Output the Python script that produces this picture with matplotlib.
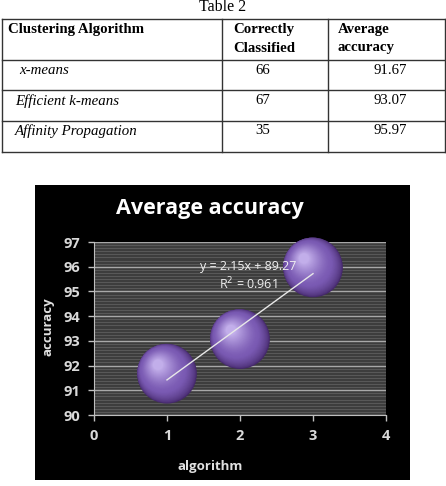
import numpy as np
import matplotlib
matplotlib.use('Agg')
import matplotlib.pyplot as plt
from matplotlib.lines import Line2D
from matplotlib.patches import Rectangle
from matplotlib.transforms import ScaledTranslation
from matplotlib.colors import to_rgb

# table data
table_title = "Table 2"
col_headers = [["Clustering Algorithm"], ["Correctly", "Classified"], ["Average", "accuracy"]]
algorithms = ["x-means", "Efficient k-means", "Affinity Propagation"]
correctly_classified = [66, 67, 35]
avg_accuracy = [91.67, 93.07, 95.97]

# chart data
algo_index = [1, 2, 3]
chart_title = "Average accuracy"
x_label = "algorithm"
y_label = "accuracy"

W, H = 446, 486
fig = plt.figure(figsize=(W / 100, H / 100), dpi=100)
fig.patch.set_facecolor("white")


def fx(px):
    return px / W


def fy(py):
    return 1 - py / H


serif = "Liberation Serif"

# ---- the table ----
fig.text(fx(223), fy(7), table_title, family=serif, fontsize=11.5, ha="center", va="center")

row_lines = [19, 60, 90, 121, 152]
col_lines = [2, 222, 328, 445]
for y in row_lines:
    fig.add_artist(Line2D([fx(2), fx(445)], [fy(y), fy(y)], color="#333333", lw=1.0))
for x in col_lines:
    fig.add_artist(Line2D([fx(x), fx(x)], [fy(19), fy(152)], color="#333333", lw=1.0))

head_x = [8, 233, 338]
for hx, lines in zip(head_x, col_headers):
    for k, t in enumerate(lines):
        fig.text(fx(hx), fy(29 + 19 * k), t, family=serif, weight="bold",
                 fontsize=10.7, ha="left", va="center")

row_y = [70, 101, 131]
name_x = [19, 15, 15]
for i in range(len(algorithms)):
    fig.text(fx(name_x[i]), fy(row_y[i]), algorithms[i], family=serif, style="italic",
             fontsize=10.7, ha="left", va="center")
    fig.text(fx(263), fy(row_y[i]), str(correctly_classified[i]), family=serif,
             fontsize=10.7, ha="center", va="center")
    fig.text(fx(390), fy(row_y[i]), "%.2f" % avg_accuracy[i], family=serif,
             fontsize=10.7, ha="center", va="center")

# ---- the chart (black panel) ----
fig.add_artist(Rectangle((fx(35), fy(480)), fx(410) - fx(35), fy(185) - fy(480),
                         transform=fig.transFigure, facecolor="black", edgecolor="none", zorder=0))

ax = fig.add_axes([fx(94), fy(415), fx(386) - fx(94), fy(242) - fy(415)])
ax.set_facecolor("#3c3c3c")
ax.set_xlim(0, 4)
ax.set_ylim(90, 97)
ax.set_xticks(range(0, 5))
ax.set_yticks(range(90, 98))
ax.set_yticks(np.arange(90, 97, 0.125), minor=True)
ax.grid(which="minor", axis="y", color="#585858", lw=0.8)
ax.grid(which="major", axis="y", color="#a8a8a8", lw=1.0)
ax.set_axisbelow(True)
ax.tick_params(which="minor", left=False)
ax.tick_params(which="major", colors="#bfbfbf", labelcolor="#d9d9d9", length=4, width=1,
               labelsize=10.5, pad=6)
for lab in ax.get_xticklabels() + ax.get_yticklabels():
    lab.set_fontweight("bold")
    lab.set_family("Open Sans")
for s in ["top", "right"]:
    ax.spines[s].set_visible(False)
for s in ["left", "bottom"]:
    ax.spines[s].set_color("#bfbfbf")

# spheres: many stacked circles shifting toward the upper-left highlight
s_big = 1850
rim = np.array(to_rgb("#45296b"))
mid = np.array(to_rgb("#7a5ab3"))
hi = np.array(to_rgb("#c2aeea"))
n_layers = 40
for k in range(n_layers):
    t = k / (n_layers - 1)
    f = (1 - t) ** 1.3 * 0.97 + 0.03
    shift = 9.0 * t ** 0.8
    if t < 0.35:
        col = rim + (mid - rim) * (t / 0.35) ** 0.6
    else:
        col = mid + (hi - mid) * ((t - 0.35) / 0.65) ** 1.6
    tr = ax.transData + ScaledTranslation(-shift / 100, shift / 100, fig.dpi_scale_trans)
    ax.scatter(algo_index, avg_accuracy, s=s_big * f, color=[tuple(col)], edgecolors="none",
               transform=tr, zorder=3, clip_on=False)

# linear trendline
slope, intercept = np.polyfit(algo_index, avg_accuracy, 1)
fit = slope * np.array(algo_index) + intercept
r2 = 1 - np.sum((np.array(avg_accuracy) - fit) ** 2) / np.sum((np.array(avg_accuracy) - np.mean(avg_accuracy)) ** 2)
ax.plot([algo_index[0], algo_index[-1]], [fit[0], fit[-1]], color="#e8e8e8", lw=1.0, zorder=4)
ax.text(2.11, 96.0, "y = %.2fx + %.2f" % (slope, intercept), color="#f0f0f0",
        fontsize=9, ha="center", va="center", family="Open Sans", zorder=5)
ax.text(2.11, 95.3, "R$^2$ = %.3f" % r2, color="#f0f0f0",
        fontsize=9, ha="center", va="center", family="Open Sans", zorder=5)

fig.text(fx(210), fy(208), chart_title, color="white", weight="bold", family="Open Sans",
         fontsize=15.5, ha="center", va="center")
fig.text(fx(210), fy(466), x_label, color="#e0e0e0", weight="bold", family="Open Sans",
         fontsize=9.5, ha="center", va="center")
fig.text(fx(48), fy(327), y_label, color="#e0e0e0", weight="bold", family="Open Sans",
         fontsize=9.5, ha="center", va="center", rotation=90)

fig.savefig("out.png", dpi=100)
